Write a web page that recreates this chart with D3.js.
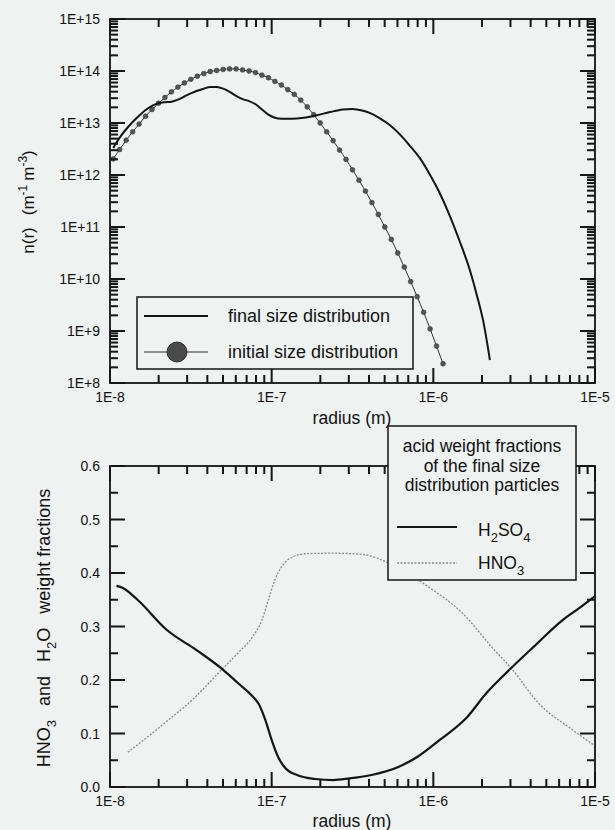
<!DOCTYPE html>
<html>
<head>
<meta charset="utf-8">
<script src="https://cdn.jsdelivr.net/npm/d3@7/dist/d3.min.js"></script>
<style>
  html, body { margin: 0; padding: 0; background: #eef2f1; }
  svg { display: block; }
  text { font-family: "Liberation Sans", Arial, Helvetica, sans-serif; fill: #111; }
</style>
</head>
<body>
<svg id="chart" width="615" height="830"></svg>
<script>
// ---------- Data ----------
const radiusTicks = [1e-8, 1e-7, 1e-6, 1e-5];
const radiusTickLabels = ["1E-8", "1E-7", "1E-6", "1E-5"];
const densityTicks = [1e8, 1e9, 1e10, 1e11, 1e12, 1e13, 1e14, 1e15];
const densityTickLabels = ["1E+8", "1E+9", "1E+10", "1E+11", "1E+12", "1E+13", "1E+14", "1E+15"];
const fractionTicks = [0, 0.1, 0.2, 0.3, 0.4, 0.5, 0.6];
const fractionTickLabels = ["0.0", "0.1", "0.2", "0.3", "0.4", "0.5", "0.6"];
const fractionMinorTicks = [0.05, 0.15, 0.25, 0.35, 0.45, 0.55];

// final size distribution: log10(radius / m), log10(n)
const finalLogRadius = [-7.98, -7.94, -7.90, -7.86, -7.82, -7.78, -7.74, -7.70, -7.66, -7.62, -7.58, -7.54, -7.50, -7.46, -7.42, -7.38, -7.34, -7.30, -7.26, -7.22, -7.18, -7.14, -7.10, -7.06, -7.02, -6.98, -6.94, -6.88, -6.80, -6.72, -6.64, -6.56, -6.50, -6.44, -6.39, -6.33, -6.27, -6.21, -6.15, -6.08, -6.02, -5.96, -5.90, -5.84, -5.77, -5.73, -5.69, -5.65];
const finalLogDensity = [12.52, 12.72, 12.88, 13.02, 13.14, 13.25, 13.33, 13.38, 13.40, 13.41, 13.45, 13.51, 13.57, 13.62, 13.66, 13.69, 13.69, 13.66, 13.60, 13.52, 13.46, 13.42, 13.36, 13.26, 13.16, 13.10, 13.08, 13.08, 13.10, 13.15, 13.21, 13.26, 13.27, 13.24, 13.19, 13.09, 12.96, 12.79, 12.58, 12.31, 12.00, 11.65, 11.23, 10.75, 10.13, 9.68, 9.17, 8.44];

// initial size distribution (marked points)
const initialLogRadius = [-7.98, -7.94, -7.90, -7.86, -7.82, -7.78, -7.74, -7.70, -7.66, -7.62, -7.58, -7.54, -7.50, -7.46, -7.42, -7.38, -7.34, -7.30, -7.26, -7.22, -7.18, -7.14, -7.10, -7.06, -7.02, -6.98, -6.94, -6.90, -6.86, -6.82, -6.78, -6.74, -6.70, -6.66, -6.62, -6.58, -6.54, -6.50, -6.46, -6.42, -6.38, -6.34, -6.30, -6.26, -6.22, -6.18, -6.14, -6.10, -6.06, -6.02, -5.98, -5.94];
const initialLogDensity = [12.31, 12.49, 12.67, 12.83, 12.98, 13.13, 13.26, 13.38, 13.49, 13.60, 13.69, 13.77, 13.84, 13.90, 13.95, 13.99, 14.01, 14.03, 14.04, 14.04, 14.02, 14.00, 13.97, 13.92, 13.87, 13.80, 13.73, 13.64, 13.55, 13.44, 13.31, 13.16, 13.00, 12.83, 12.66, 12.48, 12.30, 12.10, 11.90, 11.69, 11.47, 11.24, 11.00, 10.76, 10.50, 10.23, 9.95, 9.66, 9.36, 9.04, 8.71, 8.37];

// acid weight fractions of final size distribution particles
const h2so4LogRadius = [-7.96, -7.92, -7.83, -7.65, -7.46, -7.30, -7.20, -7.12, -7.08, -7.04, -7.00, -6.96, -6.92, -6.84, -6.73, -6.62, -6.52, -6.39, -6.22, -6.10, -5.96, -5.79, -5.67, -5.53, -5.38, -5.20, -5.10, -5.00];
const h2so4Fraction = [0.376, 0.372, 0.350, 0.294, 0.255, 0.219, 0.192, 0.170, 0.155, 0.126, 0.088, 0.056, 0.037, 0.022, 0.015, 0.013, 0.016, 0.022, 0.037, 0.056, 0.088, 0.131, 0.176, 0.219, 0.262, 0.312, 0.334, 0.357];
const hno3LogRadius = [-7.89, -7.77, -7.64, -7.49, -7.33, -7.21, -7.12, -7.06, -7.02, -6.98, -6.94, -6.87, -6.79, -6.63, -6.50, -6.42, -6.28, -6.03, -5.82, -5.64, -5.51, -5.35, -5.14, -5.01];
const hno3Fraction = [0.065, 0.093, 0.125, 0.163, 0.213, 0.250, 0.280, 0.312, 0.350, 0.387, 0.411, 0.430, 0.436, 0.437, 0.436, 0.434, 0.419, 0.374, 0.325, 0.262, 0.219, 0.157, 0.107, 0.079];

// ---------- Layout ----------
const svg = d3.select("#chart");
const X0 = 110, X1 = 595;
const topPanel = { y0: 19, y1: 383 };
const botPanel = { y0: 466, y1: 787 };

const x = d3.scaleLog().domain([1e-8, 1e-5]).range([X0, X1]);
const yTop = d3.scaleLog().domain([1e8, 1e15]).range([topPanel.y1, topPanel.y0]);
const yBot = d3.scaleLinear().domain([0, 0.6]).range([botPanel.y1, botPanel.y0]);

function minorLog(decades) {
  const out = [];
  decades.forEach(dec => { for (let k = 2; k <= 9; k++) out.push(k * dec); });
  return out;
}
const xMinor = minorLog([1e-8, 1e-7, 1e-6]);
const yTopMinor = minorLog([1e8, 1e9, 1e10, 1e11, 1e12, 1e13, 1e14]);

const INK = "#151515";
const TW = 2; // tick thickness
// vertical tick as a filled bar
function vTick(px, yStart, len) {
  svg.append("rect").attr("x", px - TW / 2).attr("y", Math.min(yStart, yStart + len))
    .attr("width", TW).attr("height", Math.abs(len)).attr("fill", INK);
}
function hTick(py, xStart, len) {
  svg.append("rect").attr("x", Math.min(xStart, xStart + len)).attr("y", py - TW / 2)
    .attr("width", Math.abs(len)).attr("height", TW).attr("fill", INK);
}
function drawAxes(yScale, yMajor, yMajorLabels, yMinor, py0, py1) {
  const MAJ = 15, MIN = 8;
  radiusTicks.forEach(v => { vTick(x(v), py1, -MAJ); vTick(x(v), py0, MAJ); });
  xMinor.forEach(v => { vTick(x(v), py1, -MIN); vTick(x(v), py0, MIN); });
  yMajor.forEach(v => { hTick(yScale(v), X0, MAJ); hTick(yScale(v), X1, -MAJ); });
  yMinor.forEach(v => { hTick(yScale(v), X0, MIN); hTick(yScale(v), X1, -MIN); });
  radiusTicks.forEach((v, i) => {
    svg.append("text").attr("x", x(v)).attr("y", py1 + 19).attr("text-anchor", "middle")
      .attr("font-size", 14).text(radiusTickLabels[i]);
  });
  yMajor.forEach((v, i) => {
    svg.append("text").attr("x", X0 - 10).attr("y", yScale(v) + 5).attr("text-anchor", "end")
      .attr("font-size", 14).text(yMajorLabels[i]);
  });
  svg.append("rect").attr("x", X0).attr("y", py0).attr("width", X1 - X0).attr("height", py1 - py0)
    .attr("fill", "none").attr("stroke", INK).attr("stroke-width", 1.8);
}

// ---------- Top chart ----------
const finalPts = finalLogRadius.map((r, i) => [Math.pow(10, r), Math.pow(10, finalLogDensity[i])]);
const initPts = initialLogRadius.map((r, i) => [Math.pow(10, r), Math.pow(10, initialLogDensity[i])]);
const lineTop = d3.line().x(p => x(p[0])).y(p => yTop(p[1])).curve(d3.curveMonotoneX);

svg.append("path").datum(initPts).attr("d", lineTop)
  .attr("fill", "none").attr("stroke", "#333").attr("stroke-width", 1);
svg.append("g").selectAll("circle").data(initPts).join("circle")
  .attr("cx", p => x(p[0])).attr("cy", p => yTop(p[1])).attr("r", 2.4)
  .attr("fill", "#555").attr("stroke", "#333").attr("stroke-width", 0.6);
svg.append("path").datum(finalPts).attr("d", lineTop)
  .attr("fill", "none").attr("stroke", INK).attr("stroke-width", 2);

drawAxes(yTop, densityTicks, densityTickLabels, yTopMinor, topPanel.y0, topPanel.y1);

// top legend
const lg = svg.append("g");
lg.append("rect").attr("x", 137).attr("y", 297).attr("width", 276).attr("height", 72)
  .attr("fill", "#eef2f1").attr("stroke", INK).attr("stroke-width", 1.5);
lg.append("line").attr("x1", 144).attr("x2", 208).attr("y1", 316).attr("y2", 316)
  .attr("stroke", INK).attr("stroke-width", 2);
lg.append("text").attr("x", 228).attr("y", 322).attr("font-size", 18).text("final size distribution");
lg.append("line").attr("x1", 144).attr("x2", 208).attr("y1", 352).attr("y2", 352)
  .attr("stroke", "#333").attr("stroke-width", 1);
lg.append("circle").attr("cx", 177).attr("cy", 352).attr("r", 10).attr("fill", "#4a4a4a").attr("stroke", "#333");
lg.append("text").attr("x", 228).attr("y", 358).attr("font-size", 18).text("initial size distribution");

// axis titles (top)
svg.append("text").attr("x", 352).attr("y", 424).attr("text-anchor", "middle").attr("font-size", 17.5).text("radius (m)");
const ytitle = svg.append("text").attr("transform", "translate(34,202) rotate(-90)")
  .attr("text-anchor", "middle").attr("font-size", 17);
ytitle.append("tspan").text("n(r)");
ytitle.append("tspan").attr("dx", 12).text("(m");
ytitle.append("tspan").attr("dy", -7).attr("font-size", 12).text("-1");
ytitle.append("tspan").attr("dy", 7).attr("dx", 4).text("m");
ytitle.append("tspan").attr("dy", -7).attr("font-size", 12).text("-3");
ytitle.append("tspan").attr("dy", 7).text(")");

// ---------- Bottom chart ----------
const h2so4Pts = h2so4LogRadius.map((r, i) => [Math.pow(10, r), h2so4Fraction[i]]);
const hno3Pts = hno3LogRadius.map((r, i) => [Math.pow(10, r), hno3Fraction[i]]);
const lineBot = d3.line().x(p => x(p[0])).y(p => yBot(p[1])).curve(d3.curveMonotoneX);

svg.append("path").datum(hno3Pts).attr("d", lineBot)
  .attr("fill", "none").attr("stroke", "#8a8a8a").attr("stroke-width", 1.3).attr("stroke-dasharray", "2,1.5");
svg.append("path").datum(h2so4Pts).attr("d", lineBot)
  .attr("fill", "none").attr("stroke", INK).attr("stroke-width", 2.2);

drawAxes(yBot, fractionTicks, fractionTickLabels, fractionMinorTicks, botPanel.y0, botPanel.y1);

// bottom legend (opaque, overlaps the frame)
const lb = svg.append("g");
lb.append("rect").attr("x", 388).attr("y", 426).attr("width", 188).attr("height", 154)
  .attr("fill", "#eef2f1").attr("stroke", INK).attr("stroke-width", 1.5);
["acid weight fractions", "of the final size", "distribution particles"].forEach((t, i) => {
  lb.append("text").attr("x", 482).attr("y", 452 + i * 19.5).attr("text-anchor", "middle")
    .attr("font-size", 17.5).text(t);
});
lb.append("line").attr("x1", 397).attr("x2", 457).attr("y1", 527).attr("y2", 527)
  .attr("stroke", INK).attr("stroke-width", 2.2);
const th = lb.append("text").attr("x", 478).attr("y", 536).attr("font-size", 17.5);
th.append("tspan").text("H");
th.append("tspan").attr("dy", 6).attr("font-size", 13).text("2");
th.append("tspan").attr("dy", -6).text("SO");
th.append("tspan").attr("dy", 6).attr("font-size", 13).text("4");
lb.append("line").attr("x1", 397).attr("x2", 457).attr("y1", 563).attr("y2", 563)
  .attr("stroke", "#8a8a8a").attr("stroke-width", 1.3).attr("stroke-dasharray", "2,1.5");
const tn = lb.append("text").attr("x", 478).attr("y", 569).attr("font-size", 17.5);
tn.append("tspan").text("HNO");
tn.append("tspan").attr("dy", 6).attr("font-size", 13).text("3");

// axis titles (bottom)
svg.append("text").attr("x", 352).attr("y", 827).attr("text-anchor", "middle").attr("font-size", 17.5).text("radius (m)");
const yb = svg.append("text").attr("transform", "translate(50,628) rotate(-90)")
  .attr("text-anchor", "middle").attr("font-size", 18);
yb.append("tspan").text("HNO");
yb.append("tspan").attr("dy", 6).attr("font-size", 13).text("3");
yb.append("tspan").attr("dy", -6).attr("dx", 14).text("and");
yb.append("tspan").attr("dx", 14).text("H");
yb.append("tspan").attr("dy", 6).attr("font-size", 13).text("2");
yb.append("tspan").attr("dy", -6).text("O");
yb.append("tspan").attr("dx", 14).text("weight fractions");
</script>
</body>
</html>
